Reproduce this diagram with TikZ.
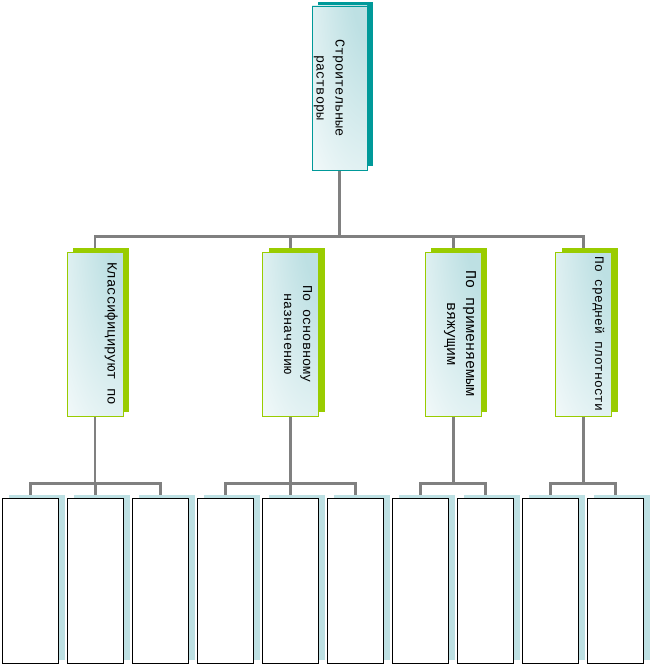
\documentclass[tikz,border=0pt]{standalone}
\usepackage{fontspec}
\newfontfamily\cour{Liberation Mono}
\usetikzlibrary{shadows,backgrounds}
\definecolor{rootTeal}{RGB}{0,153,153}
\definecolor{branchGreen}{RGB}{153,204,0}
\definecolor{paleTeal}{RGB}{189,224,227}
\definecolor{linkGray}{RGB}{128,128,128}
\pgfdeclareradialshading{cornerglow}{\pgfpoint{35bp}{40bp}}{color(0bp)=(paleTeal); color(20bp)=(paleTeal); color(75bp)=(white); color(140bp)=(white)}
\tikzset{
  link/.style={linkGray, line width=2.6pt},
  rootbox/.style={draw=rootTeal, line width=0.9pt, shade, shading=cornerglow, minimum width=55pt, minimum height=164pt, inner sep=0pt,
    drop shadow={shadow xshift=6pt, shadow yshift=4pt, fill=rootTeal, opacity=1}},
  midbox/.style={rootbox, draw=branchGreen, minimum width=56pt,
    drop shadow={shadow xshift=6pt, shadow yshift=4pt, fill=branchGreen, opacity=1}},
  leafbox/.style={draw=black, line width=1pt, fill=white, minimum width=56pt, minimum height=165pt, inner sep=0pt,
    drop shadow={shadow xshift=6pt, shadow yshift=3.5pt, fill=paleTeal, opacity=1}},
  lbl/.style={rotate=-90, anchor=base, align=center, inner sep=0pt, font=\cour\fontsize{#1}{19}\selectfont}
}

\begin{document}
\begin{tikzpicture}[x=1pt, y=-1pt]
	\useasboundingbox (0,0) rectangle (651,666);
	\node[rootbox] (root) at (339.5,88) {};
	\foreach \n/\x in {1/95,2/290.5,3/453.3,4/583.5}
		\node[midbox] (k\n) at (\x,334) {};
	\foreach \i in {1,...,10}
		\node[leafbox] (v\i) at ({30.5+65*(\i-1)},580.5) {};
	\begin{scope}[on background layer]
		\foreach \n in {1,...,4}
			\draw[link] (root.south) -- ++(0,66) -| (k\n.north);
		\foreach \n/\v in {1/1,1/2,1/3,2/4,2/5,2/6,3/7,3/8,4/9,4/10}
			\draw[link] (k\n.south) -- ++(0,67) -| (v\v.north);
	\end{scope}
	\node[lbl=13.5] (t0) at (316.5,88) {Строительные\\растворы};
	\node[lbl=14] (t1) at (107.7,334) {Классифицируют по};
	\node[lbl=13.5] (t2) at (284,334) {По основному\\назначению};
	\node[lbl=15] (t3) at (447,334) {По применяемым\\вяжущим};
	\node[lbl=12.9] (t4) at (595,334) {По средней плотности};
\end{tikzpicture}
\end{document}
